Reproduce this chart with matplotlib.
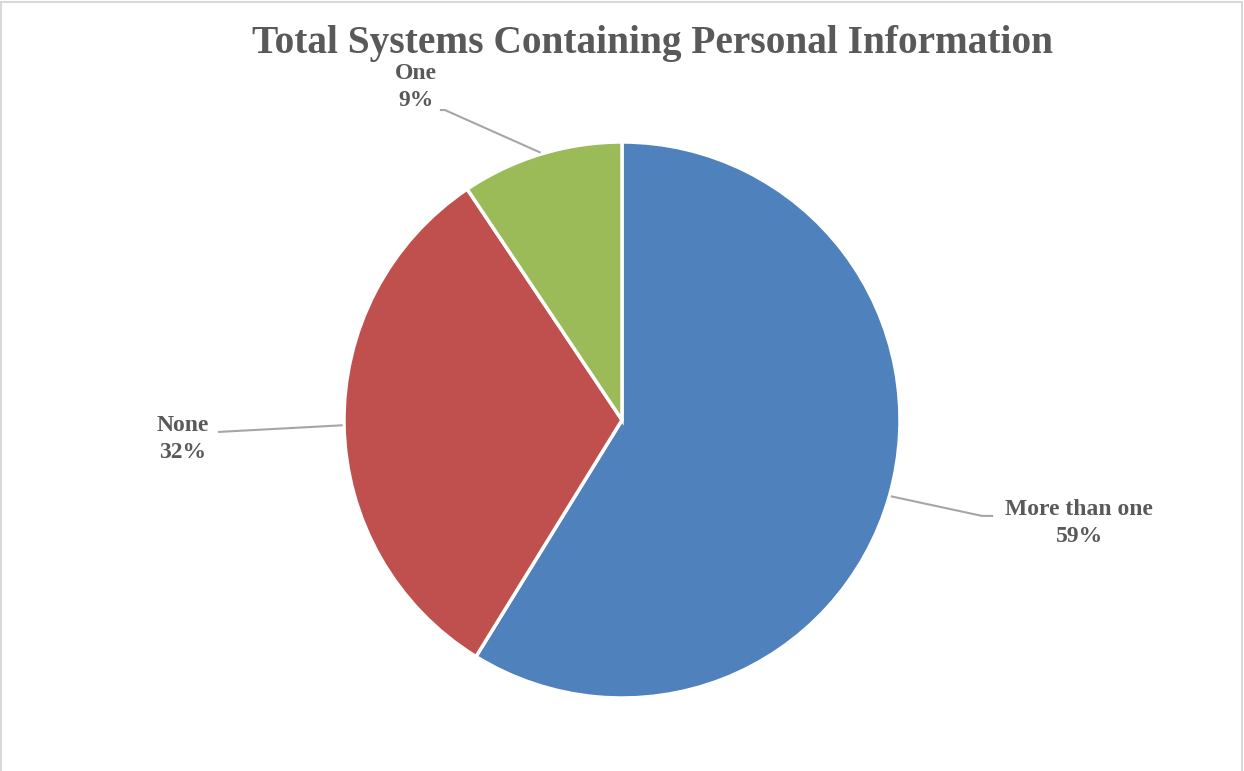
import matplotlib
matplotlib.use("Agg")
import matplotlib.pyplot as plt
from matplotlib.patches import Rectangle
import numpy as np

# Data
categories = ["More than one", "None", "One"]
shares = [58.8, 31.8, 9.4]
colors = ["#4F81BD", "#C0504D", "#9BBB59"]

# label boxes and elbow points (data coords, pie radius = 1)
label_pos = [(1.645, -0.371), (-1.579, -0.068), (-0.741, 1.198)]
elbows = [[(1.295, -0.345), (1.335, -0.345)],
          [(-1.453, -0.043)],
          [(-0.637, 1.115), (-0.655, 1.115)]]

W, H = 1244, 771
fig = plt.figure(figsize=(W / 100, H / 100), dpi=100)
ax = fig.add_axes([0, 0, 1, 1])
r_px = 278
cx, cy = 622, 420

wedges, _ = ax.pie(shares, colors=colors, startangle=90, counterclock=False,
                   radius=1, center=(0, 0), frame=True,
                   wedgeprops=dict(edgecolor="white", linewidth=2.5))
ax.set_xlim(-cx / r_px, (W - cx) / r_px)
ax.set_ylim(-(H - cy) / r_px, cy / r_px)
ax.set_aspect("auto")
ax.axis("off")

total = sum(shares)
font = dict(family="Liberation Serif", fontweight="bold", color="#595959")
for w, name, val, pos, elb in zip(wedges, categories, shares, label_pos, elbows):
    mid = np.deg2rad((w.theta1 + w.theta2) / 2)
    start = (np.cos(mid) * 1.005, np.sin(mid) * 1.005)
    pts = [start] + elb
    xs, ys = zip(*pts)
    ax.plot(xs, ys, color="#A6A6A6", lw=1.5, solid_capstyle="butt")
    ax.text(pos[0], pos[1], f"{name}\n{val / total * 100:.0f}%", ha="center",
            va="center", fontsize=17, linespacing=1.35, **font)

fig.text(653 / W, 1 - 44 / H, "Total Systems Containing Personal Information",
         ha="center", va="center", fontsize=28.4, **font)

fig.patches.append(Rectangle((0.001, -0.01), 0.997, 1.008, transform=fig.transFigure,
                             fill=False, edgecolor="#D9D9D9", lw=1.5))

fig.savefig("out.png", dpi=100)
